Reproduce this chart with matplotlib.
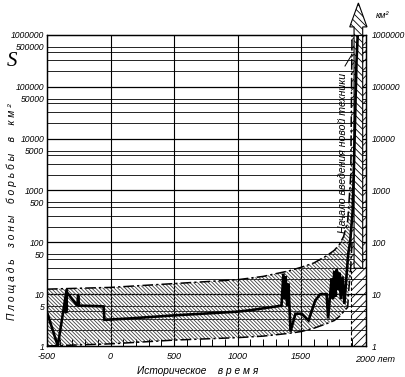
import matplotlib
matplotlib.use('Agg')
import matplotlib.pyplot as plt
from matplotlib import transforms
from matplotlib.patches import Polygon

# ---------------- data ----------------
years = [-500, -415, -345, -350, -345, -262, -255, -248, -120, -55, -48, 150, 500,
         1000, 1100, 1345, 1360, 1370, 1378, 1390, 1400, 1416, 1455, 1505, 1558,
         1610, 1650, 1700, 1712, 1728, 1740, 1750, 1760, 1770, 1780, 1790, 1800,
         1812, 1825, 1840, 1855, 1870, 1885, 1905, 1915, 1925, 1935, 1945]
area = [4.5, 1.0, 12.5, 4.3, 11, 6.0, 9.5, 6.0, 5.9, 5.8, 3.2, 3.4, 3.9,
        4.6, 4.9, 6.0, 25, 8, 22, 6, 16, 1.9, 4.2, 4.2, 3.1,
        7.5, 10, 10, 3.4, 10, 20, 8, 28, 9, 30, 12, 26,
        8, 22, 6.5, 20, 60, 100, 400, 3000, 30000, 300000, 1000000]

band_years = [-500, 0, 500, 1000, 1200, 1400, 1500, 1600, 1700, 1760, 1800, 1834, 1866, 1874, 1890, 1900]
band_upper = [12.5, 13.5, 16, 19, 22, 28, 33, 40, 55, 70, 90, 130, 260, 500, 2000, 1000000]
band_lower = [1.0, 1.1, 1.3, 1.45, 1.55, 1.75, 1.9, 2.2, 2.7, 3.1, 3.7, 4.6, 5.6, 11.7, 32, 100]

left_labels = ["1", "5", "10", "50", "100", "500", "1000", "5000",
               "10000", "50000", "100000", "500000", "1000000"]
right_labels = ["1", "10", "100", "1000", "10000", "100000", "1000000"]
x_labels = ["-500", "0", "500", "1000", "1500"]
x_tick_years = [-500, 0, 500, 1000, 1500]

# ---------------- figure ----------------
W, H = 406, 377
fig = plt.figure(figsize=(W / 100, H / 100), dpi=100)
ax = fig.add_axes([47 / W, 31 / H, 319 / W, 311 / H])
ax.set_yscale('log')
ax.set_xlim(-500, 2010)
ax.set_ylim(1, 1e6)

FONT = dict(family='Liberation Sans', style='italic')

# grid (horizontal)
grid_mult = [2, 3.25, 4.8, 5.9]
for k in range(6):
    d = 10 ** k
    if k > 0:
        ax.axhline(d, color='black', lw=0.9, zorder=1)
    for m in grid_mult:
        ax.axhline(d * m, color='black', lw=0.6, zorder=1)
for xv in [0, 500, 1000, 1500]:
    ax.axvline(xv, color='black', lw=0.8, zorder=1)

# band of uncertainty
plt.rcParams['hatch.linewidth'] = 0.6
ax.fill_between(band_years, band_lower, band_upper, facecolor='none',
                edgecolor='0.25', hatch='\\' * 9, linewidth=0, zorder=2)
dash = (0, (7, 2, 1.5, 2))
ax.plot(band_years, band_upper, color='black', lw=1.1, ls=dash, zorder=3)
ax.plot(band_years, band_lower, color='black', lw=1.1, ls=dash, zorder=3)

# strip of new technique
ax.axvspan(1890, 2010, facecolor='none', edgecolor='black', hatch='////',
           linewidth=0, zorder=2)
ax.plot([1890, 1890], [1, 30], color='black', lw=0.8, ls=(0, (3, 2)), zorder=3)

# arrow (shaft + head)
bt = transforms.blended_transform_factory(ax.transData, ax.transAxes)
xc, sw, hw = 1950, 34, 68
arrow_pts = [(xc - sw, 0.25), (xc + sw, 0.25), (xc + sw, 1.026), (xc + hw, 1.026),
             (xc, 1.103), (xc - hw, 1.026), (xc - sw, 1.026)]
arr = Polygon(arrow_pts, closed=True, transform=bt, facecolor='white',
              edgecolor='black', hatch='\\' * 5, lw=0.8, clip_on=False, zorder=4)
ax.add_patch(arr)

# data line
ax.plot(years, area, color='black', lw=1.9, solid_joinstyle='miter', zorder=5)

# ticks
ax.set_xticks(x_tick_years)
ax.set_xticklabels(x_labels, fontsize=6.5, **FONT)
ax.set_xticks(range(-400, 2000, 100), minor=True)
ax.tick_params(axis='x', which='major', direction='in', length=0, pad=4)
ax.tick_params(axis='x', which='minor', direction='in', length=5, width=0.7)
ax.text(1925, -0.03, "2000 лет", transform=bt, ha='left', va='top', fontsize=6.5, **FONT)

left_pos = []
for k in range(7):
    left_pos.append(10 ** k)
    if k < 6:
        left_pos.append(5.9 * 10 ** k)
left_pos = sorted(left_pos)
ax.set_yticks(left_pos)
ax.set_yticklabels(left_labels, fontsize=6.2, **FONT)
ax.yaxis.set_minor_locator(matplotlib.ticker.NullLocator())
ax.tick_params(axis='y', which='both', length=0, pad=2)

ax2 = ax.twinx()
ax2.set_yscale('log')
ax2.set_ylim(1, 1e6)
ax2.set_yticks([10 ** k for k in range(7)])
ax2.set_yticklabels(right_labels, fontsize=6.2, **FONT)
ax2.yaxis.set_minor_locator(matplotlib.ticker.NullLocator())
ax2.tick_params(axis='y', which='both', length=0, pad=4)

for a in (ax, ax2):
    for s in a.spines.values():
        s.set_linewidth(0.9)

# texts
fig.text(376 / W, 1 - 16 / H, "км²", fontsize=6.5, ha='left', va='center', **FONT)
fig.text(12 / W, 1 - 62 / H, "S", fontsize=15, ha='center', va='center',
         family='Liberation Serif', style='italic')
fig.text(12 / W, 1 - 212 / H, "П л о щ а д ь    з о н ы    б о р ь б ы    в    к м ²",
         rotation=90, fontsize=7.4, ha='center', va='center', **FONT)
fig.text(137 / W, 1 - 371 / H, "Историческое    в р е м я",
         fontsize=7.3, ha='left', va='center', **FONT)
fig.text(343 / W, 1 - 153 / H, "Начало введения новой техники", rotation=90,
         fontsize=7.6, ha='center', va='center', **FONT)
fig.lines.append(plt.Line2D([345 / W, 351 / W], [1 - 66 / H, 1 - 56 / H],
                            transform=fig.transFigure, color='black', lw=0.7))

fig.savefig('out.png', dpi=100)
